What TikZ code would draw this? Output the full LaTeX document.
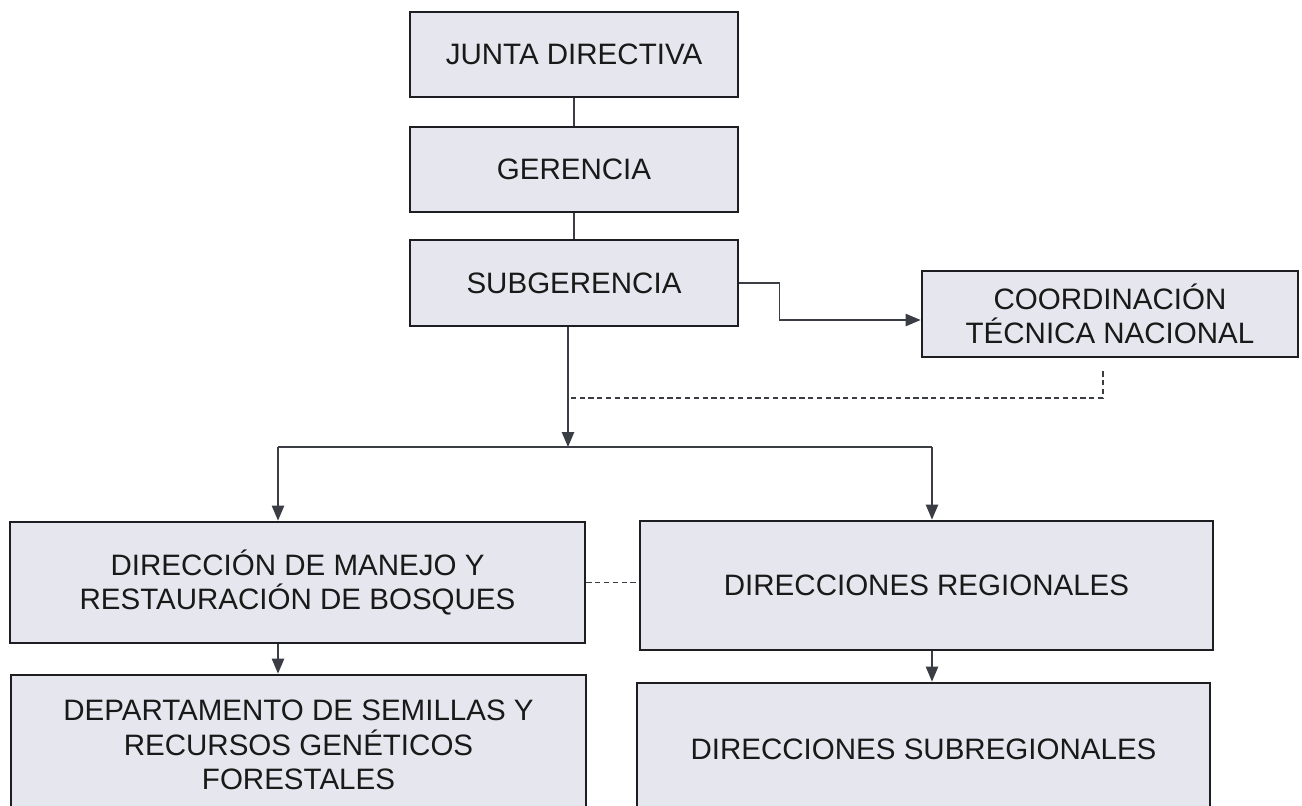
\documentclass[tikz,border=0pt]{standalone}
\usepackage{fontspec}
\setmainfont{Liberation Sans}
\usepackage{xcolor}
\usepackage{tikz}
\usetikzlibrary{arrows.meta}
\usetikzlibrary{calc}
\definecolor{cajafondo}{HTML}{E6E6EE}
\definecolor{cajaborde}{HTML}{1E1E22}
\definecolor{linea}{HTML}{3A3E44}
\tikzset{
  caja/.style={draw=cajaborde, fill=cajafondo, line width=1.6pt, align=center,
    font=\fontsize{16.8}{19.5}\selectfont, text=black!90},
  flecha/.style={draw=linea, line width=0.8pt, -{Triangle[width=7pt,length=8.5pt]}},
  linea/.style={draw=linea, line width=0.8pt},
  punteada/.style={draw=linea, line width=0.8pt, dash pattern=on 3pt off 2pt}
}

\begin{document}
\begin{tikzpicture}
        \useasboundingbox[fill=white] (0,0) rectangle (26.04,-16.10);

        % Cajas superiores
        \node[caja, minimum width=6.56cm, minimum height=1.70cm] (junta) at (11.48,-1.09) {JUNTA DIRECTIVA};
        \node[caja, minimum width=6.56cm, minimum height=1.70cm] (gerencia) at (11.48,-3.39) {GERENCIA};
        \node[caja, minimum width=6.56cm, minimum height=1.72cm] (subger) at (11.48,-5.66) {SUBGERENCIA};
        \node[caja, minimum width=7.52cm, minimum height=1.72cm] (coord) at (22.20,-6.28) {COORDINACIÓN\\TÉCNICA NACIONAL};

        % Direcciones
        \node[caja, minimum width=11.50cm, minimum height=2.42cm] (dmr) at (5.95,-11.65) {DIRECCIÓN DE MANEJO Y\\RESTAURACIÓN DE BOSQUES};
        \node[caja, minimum width=11.46cm, minimum height=2.58cm] (dreg) at (18.53,-11.71) {DIRECCIONES REGIONALES};
        \node[caja, minimum width=11.50cm, minimum height=2.80cm] (dsem) at (5.97,-14.90) {DEPARTAMENTO DE SEMILLAS Y\\RECURSOS GENÉTICOS\\FORESTALES};
        \node[caja, minimum width=11.46cm, minimum height=2.64cm] (dsub) at (18.47,-14.98) {DIRECCIONES SUBREGIONALES};

        % Puntos de union
        \coordinate (hl) at (5.56,-8.94);
        \coordinate (hr) at (18.64,-8.94);
        \coordinate (hc) at (11.36,-8.94);
        \coordinate (dj) at (11.36,-7.96);

        % Conectores
        \draw[linea] (junta.south) -- (gerencia.north);
        \draw[linea] (gerencia.south) -- (subger.north);
        \draw[flecha] (subger.east) -- ++(0.8,0) |- ([yshift=-0.12cm]coord.west);
        \draw[flecha] (subger.south -| hc) -- (hc);
        \draw[punteada] ([xshift=-0.14cm,yshift=-0.26cm]coord.south) |- (dj);
        \draw[linea] (hl) -- (hr);
        \draw[flecha] (hl) -- (hl |- dmr.north);
        \draw[flecha] (hr) -- (hr |- dreg.north);
        \draw[punteada] (dmr.east) -- (dmr.east -| dreg.west);
        \draw[flecha] (dmr.south -| hl) -- (dsem.north -| hl);
        \draw[flecha] (dreg.south -| hr) -- (dsub.north -| hr);
    \end{tikzpicture}
\end{document}
